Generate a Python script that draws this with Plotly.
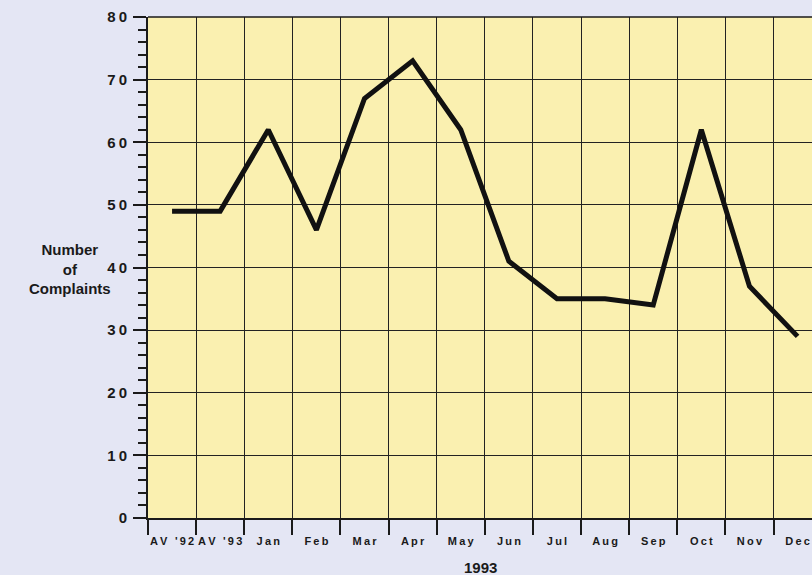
import plotly.graph_objects as go

categories = ["AV '92", "AV '93", "Jan", "Feb", "Mar", "Apr", "May", "Jun",
              "Jul", "Aug", "Sep", "Oct", "Nov", "Dec"]
complaints = [49, 49, 62, 46, 67, 73, 62, 41, 35, 35, 34, 62, 37, 29]
y_ticks = [0, 10, 20, 30, 40, 50, 60, 70, 80]

BG = "#e4e6f4"
PLOT_BG = "#faf0b0"
INK = "#1a1a1a"
TS = "\u2009"


def spaced(s):
    return TS.join(list(s))


fig = go.Figure()
fig.add_trace(go.Scatter(
    x=categories, y=complaints, mode="lines",
    line=dict(color="#111111", width=5),
    hoverinfo="skip", showlegend=False,
))

fig.update_layout(
    width=812, height=575,
    margin=dict(l=148, r=0, t=17, b=57),
    paper_bgcolor=BG, plot_bgcolor=PLOT_BG,
    font=dict(family="Liberation Sans, Arial, sans-serif", color=INK),
    xaxis=dict(
        type="category", categoryorder="array", categoryarray=categories,
        range=[-0.5, 13.3], tickson="boundaries",
        tickvals=categories, ticktext=[spaced(c) for c in categories],
        tickangle=0,
        showgrid=True, gridcolor="#222222", gridwidth=1.2,
        ticks="outside", ticklen=15, tickcolor=INK, tickwidth=1.5,
        tickfont=dict(size=11, weight="bold", color=INK),
        ticklabelstandoff=12,
        showline=True, linecolor=INK, linewidth=2, mirror=False,
        zeroline=False, automargin=False,
    ),
    yaxis=dict(
        range=[0, 80], tickvals=y_ticks, ticktext=[spaced(str(v)) for v in y_ticks],
        showgrid=True, gridcolor="#222222", gridwidth=1.2,
        ticks="outside", ticklen=13, tickcolor=INK, tickwidth=1.5,
        tickfont=dict(size=15, weight="bold", color=INK),
        showline=True, linecolor=INK, linewidth=2,
        zeroline=False, ticklabelstandoff=3, automargin=False,
        minor=dict(dtick=2, ticks="outside", ticklen=8, tickcolor=INK,
                   tickwidth=1.5, showgrid=False),
    ),
    annotations=[
        dict(text="Number<br>of<br>Complaints", xref="paper", yref="paper",
             x=-0.118, y=0.497, xanchor="center", yanchor="middle",
             showarrow=False, align="center",
             font=dict(size=15, weight="bold", color=INK)),
        dict(text="1993", xref="paper", yref="paper",
             x=0.501, y=-0.098, xanchor="center", yanchor="middle",
             showarrow=False,
             font=dict(size=15, weight="bold", color=INK)),
    ],
)
fig.add_shape(type="line", xref="paper", yref="paper", x0=0, x1=1, y0=1, y1=1,
              line=dict(color=INK, width=1.5))

fig.write_html("out.html", config={"displayModeBar": False},
               post_script="document.body.style.margin='0';document.body.style.background='" + BG + "';")
